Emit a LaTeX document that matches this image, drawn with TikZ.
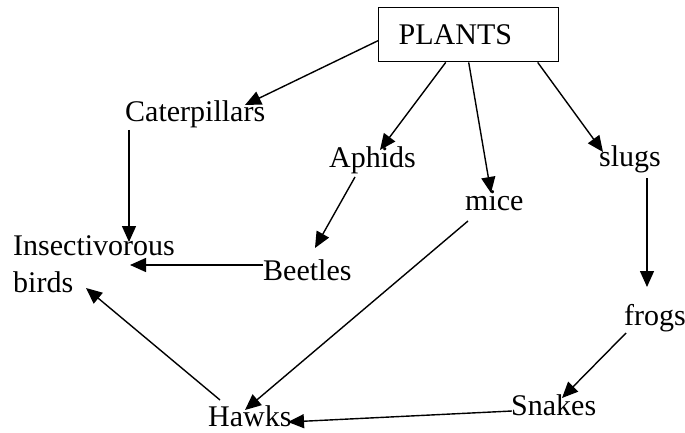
\documentclass[tikz,border=0pt]{standalone}
\usepackage{fontspec}
\setmainfont{Liberation Serif}
\usetikzlibrary{arrows.meta,calc}
\tikzset{
  lbl/.style={inner sep=0pt, anchor=base west, font=\fontsize{30}{37}\selectfont},
  arr/.style={line width=1.4pt, -{Triangle[length=16pt,width=14pt]}},
}
\begin{document}
\begin{tikzpicture}[x=1pt,y=-1pt]
\useasboundingbox (0,0) rectangle (685,433);
\node[draw, line width=1.4pt, anchor=north west, inner xsep=20pt, inner ysep=0pt,
      text width=140pt, minimum height=54pt, align=left,
      font=\fontsize{30}{37}\selectfont] (plants) at (378,7) {PLANTS};
\node[lbl] (cat) at (125,122) {Caterpillars};
\node[lbl] (aph) at (329,167) {Aphids};
\node[lbl] (mice) at (465,210) {mice};
\node[lbl] (slugs) at (599,166) {slugs};
\node[lbl, anchor=north west, align=left] (ins) at (13,235) {Insectivorous\\birds};
\node[lbl] (beet) at (263,280) {Beetles};
\node[lbl] (frogs) at (624,325) {frogs};
\node[lbl] (snakes) at (511,415) {Snakes};
\node[lbl] (hawks) at (208,426) {Hawks};

\draw[arr] ($(plants.west)+(0,6)$) -- ($(cat.base west)+(120,-17)$);
\draw[arr] ($(plants.south)+(-23,0)$) -- ($(aph.base west)+(51,-17)$);
\draw[arr] (plants.south) -- ($(mice.base west)+(26,-17)$);
\draw[arr] ($(plants.south)+(69,0)$) -- ($(slugs.base west)+(4,-14)$);
\draw[arr] ($(cat.base west)+(4,8)$) -- ($(ins.north west)+(116,7)$);
\draw[arr] ($(aph.base west)+(26,10)$) -- ($(beet.base west)+(52,-32)$);
\draw[arr] ($(beet.base west)+(0,-15)$) -- ($(ins.north west)+(117,30)$);
\draw[arr] ($(hawks.base west)+(12,-26)$) -- ($(ins.north west)+(73,53)$);
\draw[arr] ($(mice.base west)+(3,11)$) -- ($(hawks.base west)+(37,-16)$);
\draw[arr] ($(slugs.base west)+(48,12)$) -- ($(frogs.base west)+(23,-38)$);
\draw[arr] ($(frogs.base west)+(2,8)$) -- ($(snakes.base west)+(51,-17)$);
\draw[arr] ($(snakes.base west)+(1,-4)$) -- ($(hawks.base west)+(80,-4)$);
\end{tikzpicture}
\end{document}
